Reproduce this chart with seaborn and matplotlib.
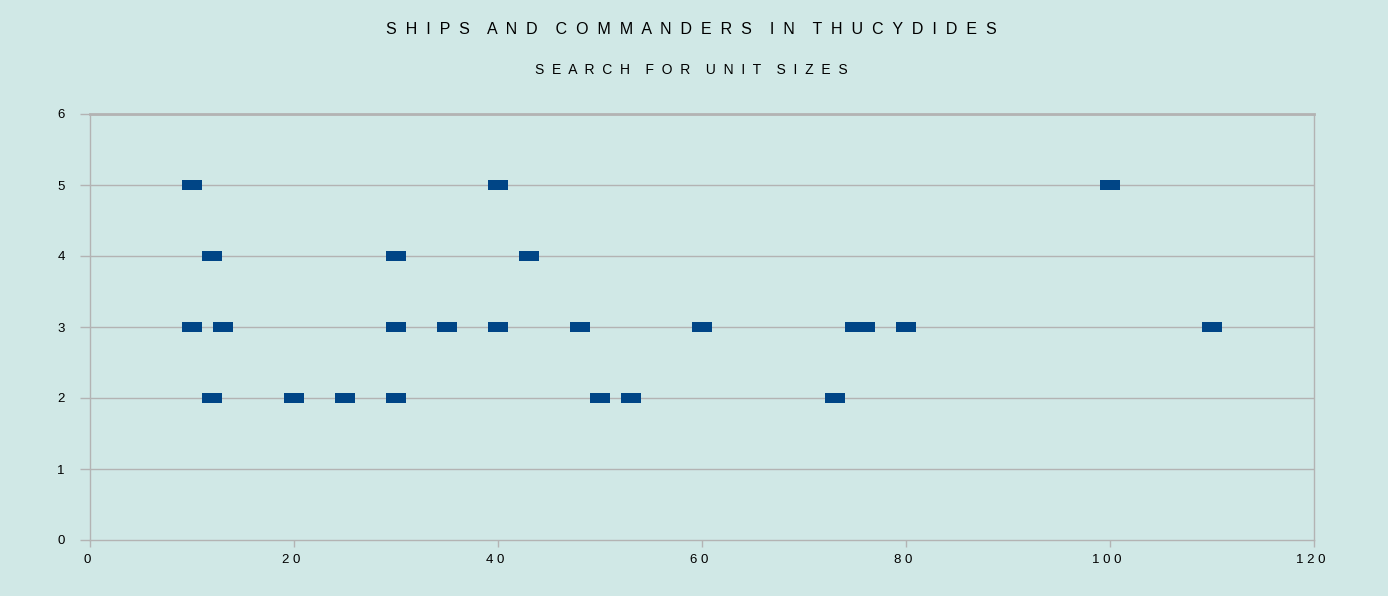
import matplotlib
matplotlib.use("Agg")
import matplotlib.pyplot as plt
import matplotlib.transforms as mtrans
import seaborn as sns
import pandas as pd
from matplotlib.path import Path

# data
ships = [10, 40, 100,
         12, 30, 43,
         10, 13, 30, 35, 40, 48, 60, 75, 76, 80, 110,
         12, 20, 25, 30, 50, 53, 73]
commanders = [5, 5, 5,
              4, 4, 4,
              3, 3, 3, 3, 3, 3, 3, 3, 3, 3, 3,
              2, 2, 2, 2, 2, 2, 2]
x_ticks = [0, 20, 40, 60, 80, 100, 120]
y_ticks = [0, 1, 2, 3, 4, 5, 6]
title = "SHIPS AND COMMANDERS IN THUCYDIDES"
subtitle = "SEARCH FOR UNIT SIZES"

def spaced(s):
    return "    ".join("  ".join(w) for w in s.split(" "))

bg = "#D0E8E6"
grid_c = "#B3B3B3"
mark_c = "#004586"

sns.set_theme(style="white")
plt.rcParams["font.family"] = ["Liberation Sans", "DejaVu Sans"]

fig = plt.figure(figsize=(13.88, 5.96), dpi=100, facecolor=bg)
ax = fig.add_axes([90/1388, 1-540/596, (1314-90)/1388, (540-114)/596])
ax.set_facecolor(bg)

df = pd.DataFrame({"ships": ships, "commanders": commanders})
rect = Path([(-1, -0.53), (1, -0.53), (1, 0.53), (-1, 0.53), (-1, -0.53)],
            [Path.MOVETO, Path.LINETO, Path.LINETO, Path.LINETO, Path.CLOSEPOLY])
sns.scatterplot(data=df, x="ships", y="commanders", marker=rect, s=14.0**2,
                color=mark_c, linewidth=0, ax=ax, zorder=3, legend=False)

ax.set_xlim(0, 120)
ax.set_ylim(0, 6)
ax.set_xticks(x_ticks)
ax.set_xticklabels([" ".join(str(v)) for v in x_ticks])
ax.set_yticks(y_ticks)
ax.set_yticklabels([str(v) for v in y_ticks])
ax.set_xlabel("")
ax.set_ylabel("")

for yv in y_ticks[1:]:
    ax.axhline(yv, color=grid_c, lw=1.0, zorder=1)
for side in ["left", "bottom", "right", "top"]:
    ax.spines[side].set_color(grid_c)
    ax.spines[side].set_linewidth(1.0)
ax.spines["top"].set_linewidth(2.0)

ax.tick_params(axis="y", which="major", direction="out", length=7.2, width=1,
               color=grid_c, labelsize=9.5, labelcolor="black", pad=11, left=True)
ax.tick_params(axis="x", which="major", direction="out", length=5, width=1,
               color=grid_c, labelsize=9.5, labelcolor="black", pad=5, bottom=True)

shift = mtrans.ScaledTranslation(-3/100, 0, fig.dpi_scale_trans)
for lab in ax.get_xticklabels():
    lab.set_transform(lab.get_transform() + shift)

fig.text(0.498, 1-30/596, spaced(title), ha="center", va="center",
         fontsize=11.5, color="black")
fig.text(0.498, 1-70/596, spaced(subtitle), ha="center", va="center",
         fontsize=10, color="black")

fig.savefig("out.png", dpi=100, facecolor=bg)
